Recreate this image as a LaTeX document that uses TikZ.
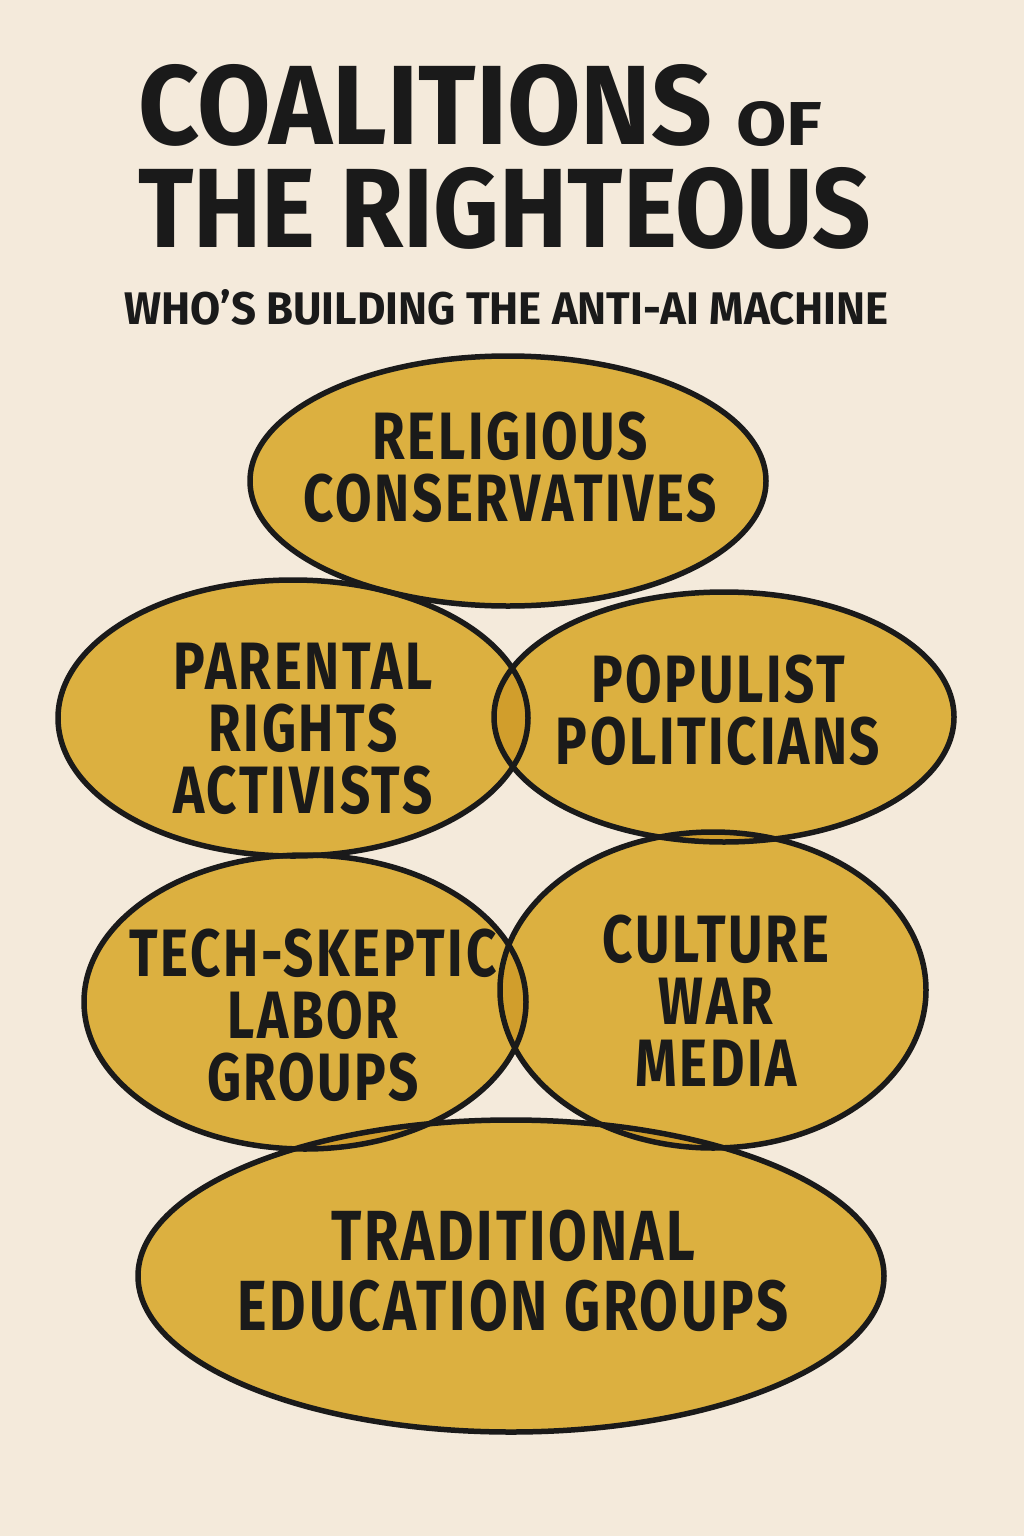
\documentclass[tikz,border=0pt]{standalone}
\usepackage{fontspec}
\setmainfont{Fira Sans}
\newfontfamily\labelfont[FakeStretch=0.79,LetterSpace=4]{Fira Sans}
\definecolor{bgc}{HTML}{F4EADB}
\definecolor{goldc}{HTML}{DCB040}
\definecolor{overc}{HTML}{D19E2C}
\definecolor{inkc}{HTML}{1A1A1A}
\newcommand{\fitbox}[3]{\resizebox{#1pt}{#2pt}{\bfseries #3}}
\tikzset{
  eA/.style={insert path={(508,481) ellipse [x radius=258, y radius=125]}},
  eB/.style={insert path={(293,718) ellipse [x radius=235, y radius=138]}},
  eC/.style={insert path={(724,717) ellipse [x radius=230, y radius=125]}},
  eD/.style={insert path={(305,1002) ellipse [x radius=221, y radius=147]}},
  eE/.style={insert path={(713,990) ellipse [x radius=213, y radius=158]}},
  eF/.style={insert path={(511,1276) ellipse [x radius=373, y radius=156]}},
  ring/.style={draw=inkc, line width=5.5pt},
  lbl/.style={text=inkc, font=\labelfont\bfseries\fontsize{67}{62}\selectfont, align=center, inner sep=0pt},
  biglbl/.style={lbl, font=\labelfont\bfseries\fontsize{71}{70}\selectfont},
  ttl/.style={text=inkc, inner sep=0pt, anchor=south west}
}
\newcommand{\overlap}[2]{\begin{scope}\clip[#1];\fill[overc,#2];\end{scope}}
\begin{document}
\begin{tikzpicture}[x=1pt,y=-1pt]
\fill[bgc] (0,0) rectangle (1024,1536);
\useasboundingbox (0,0) rectangle (1024,1536);
% fills
\foreach \e in {eA,eB,eC,eD,eE,eF}{\fill[goldc,\e];}
% overlaps
\overlap{eA}{eB}
\overlap{eA}{eC}
\overlap{eB}{eC}
\overlap{eB}{eD}
\overlap{eC}{eE}
\overlap{eD}{eE}
\overlap{eD}{eF}
\overlap{eE}{eF}
\overlap{eB}{eE}
\overlap{eC}{eD}
% outlines
\foreach \e in {eA,eB,eC,eD,eE,eF}{\draw[ring,\e];}
% title
\node[ttl] (t1) at (138,147) {\fitbox{574}{80}{COALITIONS}};
\node[ttl] (t2) at (736,147) {\fitbox{86}{44}{OF}};
\node[ttl] (t3) at (138,250) {\fitbox{733}{80}{THE RIGHTEOUS}};
\node[ttl] (t4) at (124,325) {\fitbox{764}{35}{WHO’S BUILDING THE ANTI-AI MACHINE}};
% labels
\node[lbl] (relig) at (510,467) {RELIGIOUS\\CONSERVATIVES};
\node[lbl] (paren) at (303,729) {PARENTAL\\RIGHTS\\ACTIVISTS};
\node[lbl] (popul) at (718,710) {POPULIST\\POLITICIANS};
\node[lbl] (tech) at (313,1015) {TECH-SKEPTIC\\LABOR\\GROUPS};
\node[lbl] (cult) at (716,1001) {CULTURE\\WAR\\MEDIA};
\node[biglbl] (trad) at (513,1271) {TRADITIONAL\\EDUCATION GROUPS};
\end{tikzpicture}
\end{document}
